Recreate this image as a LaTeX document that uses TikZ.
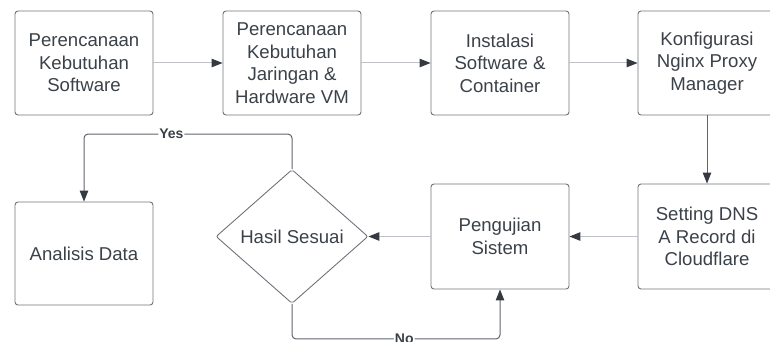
\documentclass[tikz,border=0pt]{standalone}
\usepackage{fontspec}
\setmainfont{Liberation Sans}
\usetikzlibrary{arrows.meta,positioning,shapes.geometric}

\definecolor{boxline}{HTML}{6E737A}
\definecolor{txt}{HTML}{3B4148}
\definecolor{arrowlight}{HTML}{BFC3C8}
\definecolor{arrowdark}{HTML}{60656C}
\definecolor{tipcol}{HTML}{343A40}

\tikzset{
  stepbox/.style={draw=boxline,line width=0.9pt,rounded corners=3pt,
    minimum width=138pt,minimum height=104pt,inner sep=0pt,
    align=center,text=txt,font=\fontsize{18.6}{22.5}\selectfont},
  decision/.style={diamond,draw=boxline,line width=0.9pt,rounded corners=2pt,
    minimum width=152pt,minimum height=134pt,inner sep=0pt,
    text=txt,font=\fontsize{18.6}{22.5}\selectfont},
  flow/.style={draw=arrowlight,line width=1pt,
    -{Triangle[length=11pt,width=8.5pt,fill=tipcol,color=tipcol]}},
  flowdark/.style={flow,draw=arrowdark,rounded corners=4pt},
  lbl/.style={fill=white,inner sep=1pt,text=txt,
    font=\fontsize{14}{14}\selectfont\bfseries}
}

\begin{document}
\begin{tikzpicture}[x=1pt,y=1pt,node distance=208pt,on grid]
  \useasboundingbox (0,0) rectangle (770,-342);

  % baris atas
  \node[stepbox] (software) at (84,-63) {Perencanaan\\Kebutuhan\\Software};
  \node[stepbox] (jaringan) [right=of software] {Perencanaan\\Kebutuhan\\Jaringan \&\\Hardware VM};
  \node[stepbox] (instalasi) [right=of jaringan] {Instalasi\\Software \&\\Container};
  \node[stepbox] (nginx) [right=207pt of instalasi] {Konfigurasi\\Nginx Proxy\\Manager};

  % baris bawah
  \node[stepbox,minimum height=105pt] (dns) at (707,-236.5) {Setting DNS\\A Record di\\Cloudflare};
  \node[stepbox,minimum height=105pt] (uji) [left=207pt of dns] {Pengujian\\Sistem};
  \node[decision] (sesuai) [left=of uji] {Hasil Sesuai};
  \node[stepbox,minimum height=103pt] (analisis) at (84,-253.5) {Analisis Data};

  \draw[flow] (software) -- (jaringan);
  \draw[flow] (jaringan) -- (instalasi);
  \draw[flow] (instalasi) -- (nginx);
  \draw[flowdark] (nginx.south -| dns.north) -- (dns.north);
  \draw[flow] (dns) -- (uji);
  \draw[flow] (uji) -- (sesuai);

  \draw[flowdark] (sesuai.north) -- ++(0,35) -| node[pos=0.29,lbl] {Yes} (analisis.north);
  \draw[flowdark] (sesuai.south) -- ++(0,-35) -| node[pos=0.27,lbl] {No} (uji.south);
\end{tikzpicture}
\end{document}
